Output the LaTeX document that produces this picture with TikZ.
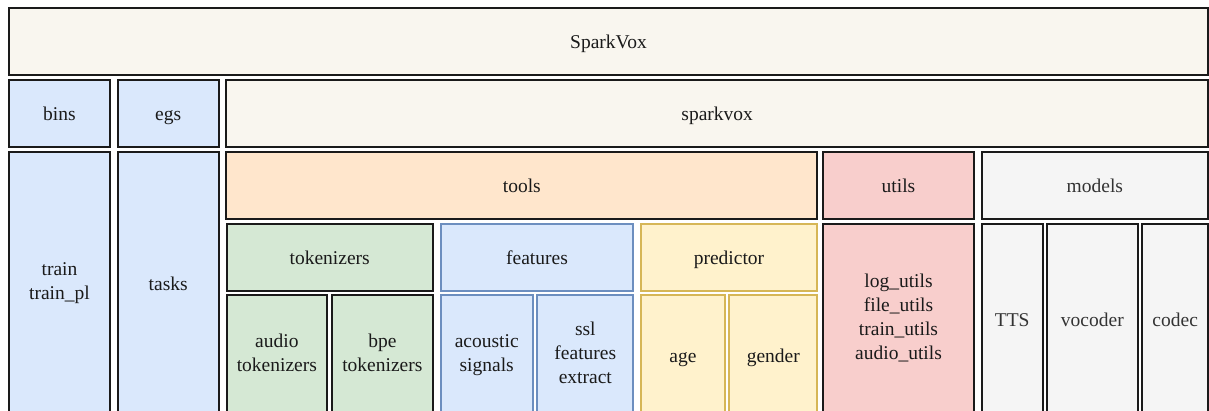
\documentclass[tikz,border=0pt]{standalone}
\usepackage{fontspec}
\setmainfont{Liberation Serif}
\definecolor{cream}{HTML}{F9F6EF}
\definecolor{dark}{HTML}{1A1A1A}
\definecolor{bluef}{HTML}{DAE8FC}
\definecolor{blued}{HTML}{6C8EBF}
\definecolor{orangef}{HTML}{FFE6CC}
\definecolor{greenf}{HTML}{D5E8D4}
\definecolor{yellowf}{HTML}{FFF2CC}
\definecolor{yellowd}{HTML}{D6B656}
\definecolor{redf}{HTML}{F8CECC}
\definecolor{greyf}{HTML}{F5F5F5}
\definecolor{greyt}{HTML}{333333}
\tikzset{
  bx/.style={rectangle, inner sep=0pt, line width=2pt, align=center,
    font=\fontsize{19.5}{24}\selectfont, text=dark,
    execute at begin node=\rule{0pt}{19.3pt},
    execute at end node=\rule[-4.7pt]{0pt}{4.7pt}},
  creambox/.style={bx, draw=dark, fill=cream},
  bluebox/.style={bx, draw=dark, fill=bluef},
  featbox/.style={bx, draw=blued, fill=bluef},
  orangebox/.style={bx, draw=dark, fill=orangef},
  greenbox/.style={bx, draw=dark, fill=greenf},
  yellowbox/.style={bx, draw=yellowd, fill=yellowf},
  redbox/.style={bx, draw=dark, fill=redf},
  greybox/.style={bx, draw=dark, fill=greyf, text=greyt},
}
% \bxn{name}{style}{x1}{y1}{x2}{y2}{text}
\newcommand\bxn[7]{%
  \pgfmathsetmacro\bxw{#5-#3}%
  \pgfmathsetmacro\bxh{#6-#4}%
  \node[#2, minimum width=\bxw pt, minimum height=\bxh pt]
    (#1) at ({(#3+#5)/2}, {(#4+#6)/2}) {#7};}
\begin{document}
\begin{tikzpicture}[x=1pt, y=-1pt]
\useasboundingbox (0,0) rectangle (1209,410);
\clip (0,0) rectangle (1209,410);
\bxn{root}{creambox}{9}{8}{1208}{74.7}{SparkVox}
\bxn{bins}{bluebox}{9}{80}{110}{146.7}{bins}
\bxn{egs}{bluebox}{117.7}{80}{218.7}{146.7}{egs}
\bxn{pkg}{creambox}{226.3}{80}{1208}{146.7}{sparkvox}
\bxn{train}{bluebox}{9}{152}{110}{415}{train\\train\_pl}
\bxn{tasks}{bluebox}{117.7}{152}{218.7}{415}{tasks}
\bxn{tools}{orangebox}{226.3}{152}{817.3}{218.7}{tools}
\bxn{utils}{redbox}{822.7}{152}{974.3}{218.7}{utils}
\bxn{models}{greybox}{981.7}{152}{1208}{218.7}{models}
\bxn{tok}{greenbox}{226.7}{224}{432.7}{290.7}{tokenizers}
\bxn{feat}{featbox}{440.7}{224}{633.3}{290.7}{features}
\bxn{pred}{yellowbox}{640.7}{224}{817.3}{290.7}{predictor}
\bxn{ulist}{redbox}{822.7}{224}{974.3}{415}{log\_utils\\file\_utils\\train\_utils\\audio\_utils}
\bxn{tts}{greybox}{981.7}{224}{1042.7}{415}{TTS}
\bxn{voc}{greybox}{1046.7}{224}{1138}{415}{vocoder}
\bxn{codec}{greybox}{1142.3}{224}{1208}{415}{codec}
\bxn{atok}{greenbox}{226.7}{295.3}{327}{415}{audio\\tokenizers}
\bxn{btok}{greenbox}{332}{295.3}{432.7}{415}{bpe\\tokenizers}
\bxn{acou}{featbox}{440.7}{295.3}{532.7}{415}{acoustic\\signals}
\bxn{ssl}{featbox}{537.3}{295.3}{633.3}{415}{ssl\\features\\extract}
\bxn{age}{yellowbox}{640.7}{295.3}{725.3}{415}{age}
\bxn{gender}{yellowbox}{729.3}{295.3}{817.3}{415}{gender}
\end{tikzpicture}
\end{document}
